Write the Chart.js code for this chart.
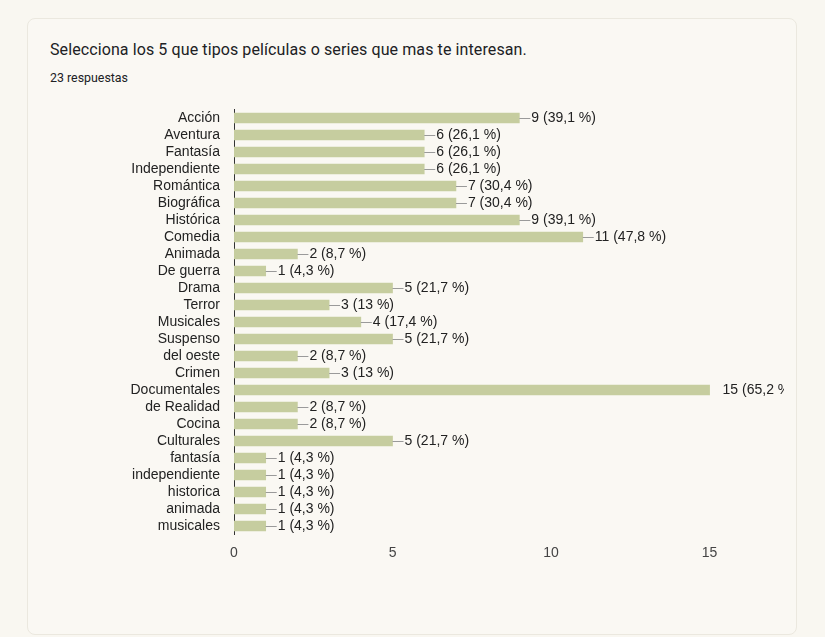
<!DOCTYPE html>
<html>
<head>
<meta charset="utf-8">
<script src="https://cdn.jsdelivr.net/npm/chart.js@4/dist/chart.umd.min.js"></script>
<style>
  html, body { margin: 0; padding: 0; background: #f9f7f1; }
  body { width: 825px; height: 637px; position: relative; overflow: hidden; font-family: Roboto, Arial, sans-serif; }
  .card { position: absolute; left: 27px; top: 18px; width: 768px; height: 615px; border: 1px solid #ebe8df; border-radius: 8px; background: #faf8f3; }
  .title { position: absolute; left: 50px; top: 40px; font-size: 16px; color: #202124; letter-spacing: 0.1px; }
  .sub { position: absolute; left: 50px; top: 70px; font-size: 12.4px; color: #202124; }
  .wrap { position: absolute; left: 0; top: 100px; width: 800px; height: 470px; }
</style>
</head>
<body>
<div class="card"></div>
<div class="title">Selecciona los 5 que tipos películas o series que mas te interesan.</div>
<div class="sub">23 respuestas</div>
<div class="wrap"><canvas id="prefChart"></canvas></div>
<script>
// categories and counts
const categories = ['Acción', 'Aventura', 'Fantasía', 'Independiente', 'Romántica', 'Biográfica',
    'Histórica', 'Comedia', 'Animada', 'De guerra', 'Drama', 'Terror', 'Musicales', 'Suspenso',
    'del oeste', 'Crimen', 'Documentales', 'de Realidad', 'Cocina', 'Culturales', 'fantasía',
    'independiente', 'historica', 'animada', 'musicales'];
const counts = [9, 6, 6, 6, 7, 7, 9, 11, 2, 1, 5, 3, 4, 5, 2, 3, 15, 2, 2, 5, 1, 1, 1, 1, 1];
const totalResponses = 23;
const xTicks = [0, 5, 10, 15];

function pctLabel(v) {
    const p = Math.round(v / totalResponses * 1000) / 10;
    return v + ' (' + String(p).replace('.', ',') + ' %)';
}

// leader line + "n (p %)" text after each bar
const valueLabels = {
    id: 'valueLabels',
    afterDatasetsDraw(chart) {
        const ctx = chart.ctx;
        const meta = chart.getDatasetMeta(0);
        const maxVal = Math.max(...counts);
        ctx.save();
        ctx.beginPath();
        ctx.rect(0, 0, 784, chart.height);
        ctx.clip();
        ctx.font = '14px "Liberation Sans", Arial, sans-serif';
        ctx.textBaseline = 'middle';
        ctx.fillStyle = '#222222';
        ctx.strokeStyle = '#9a9a9a';
        ctx.lineWidth = 1;
        meta.data.forEach((bar, i) => {
            const x = bar.x, y = Math.round(bar.y) + 0.5;
            if (counts[i] !== maxVal) {
                ctx.beginPath();
                ctx.moveTo(x, y);
                ctx.lineTo(x + 11, y);
                ctx.stroke();
                ctx.fillText(pctLabel(counts[i]), x + 12, y);
            } else {
                ctx.fillText(pctLabel(counts[i]), x + 13, y);
            }
        });
        ctx.restore();
    }
};

new Chart(document.getElementById('prefChart'), {
    type: 'bar',
    data: {
        labels: categories,
        datasets: [{
            data: counts,
            backgroundColor: '#c6cd9f',
            barThickness: 10,
            borderWidth: 0
        }]
    },
    options: {
        indexAxis: 'y',
        responsive: true,
        maintainAspectRatio: false,
        animation: false,
        layout: { padding: { top: 9.5, right: 27, left: 0, bottom: 0 } },
        scales: {
            x: {
                min: 0,
                max: 17,
                afterBuildTicks(scale) { scale.ticks = xTicks.map(v => ({ value: v })); },
                afterFit(scale) { scale.height = 35.5; },
                grid: { display: false, drawTicks: false },
                border: { display: false },
                ticks: {
                    padding: 10,
                    color: '#444444',
                    font: { family: '"Liberation Sans", Arial, sans-serif', size: 14 }
                }
            },
            y: {
                afterFit(scale) {
                    scale.width = 234;
                    scale.paddingTop = 0;
                    scale.paddingBottom = 0;
                },
                grid: { display: false, drawTicks: false },
                border: { display: true, color: '#333333', width: 1 },
                ticks: {
                    padding: 14,
                    autoSkip: false,
                    color: '#222222',
                    font: { family: '"Liberation Sans", Arial, sans-serif', size: 14 }
                }
            }
        },
        plugins: {
            legend: { display: false },
            tooltip: { enabled: false }
        }
    },
    plugins: [valueLabels]
});
</script>
</body>
</html>
